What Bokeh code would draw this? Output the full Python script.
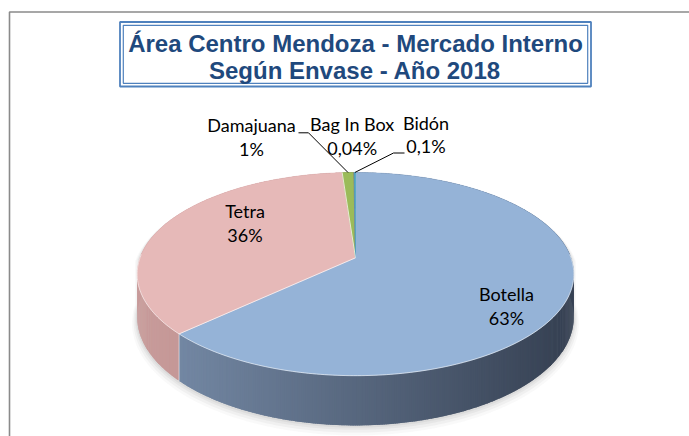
import numpy as np
from bokeh.plotting import figure
from bokeh.models import Range1d
from bokeh.embed import file_html
from bokeh.resources import INLINE
from bokeh.core.properties import value

# ---------------- data ----------------
categories = ["Botella", "Tetra", "Damajuana", "Bag In Box", "Bidón"]
shares = [63.0, 35.86, 1.0, 0.04, 0.1]
pct_labels = ["63%", "36%", "1%", "0,04%", "0,1%"]
title_lines = ["Área Centro Mendoza - Mercado Interno", "Según Envase - Año 2018"]

# ---------------- style / layout ----------------
top_colors = ["#95B3D7", "#E6B9B8", "#9BBB59", "#8064A2", "#4BACC6"]
side_light = [(121, 142, 171), (200, 155, 154), (125, 151, 72), (100, 78, 128), (60, 137, 158)]
side_dark = [(55, 66, 84), (160, 118, 117), (78, 95, 44), (62, 48, 80), (37, 86, 99)]

W, H = 689, 436
OFF = 0
CX, CY = 355.0, 257.3     # pie centre (screen)
R, RY = 215.5, 99.0       # horizontal / vertical radius
K = 0.16                  # perspective strength
DEPTH = 41.8              # pie thickness

TITLE_SHIFT = 7.5         # empirical baseline correction
LABEL_SHIFT = 7.0

# label anchors (centre x, first baseline y)
label_pos = [(506, 300.7), (244.5, 217.7), (251, 131.7), (351.7, 130.7), (425.5, 129.3)]
LINE_GAP = 23.6
leader_anchor = {2: [(298, 132.3), (308, 132.3)], 4: [(404, 152.5), (393, 152.5)]}


def proj(theta_deg, r, h):
    t = np.radians(theta_deg)
    u = r * np.sin(t)
    v = r * np.cos(t)
    s = 1.0 / (1.0 + K * v)
    return CX + R * u * s, CY + (-RY * v + DEPTH * h) * s


def hexc(c):
    return "#%02x%02x%02x" % tuple(int(round(x)) for x in c)


p = figure(width=W, height=H, x_range=Range1d(OFF, OFF + W), y_range=Range1d(OFF + H, OFF),
           output_backend="svg", toolbar_location=None,
           x_axis_location=None, y_axis_location=None, min_border=0)
p.grid.visible = False
p.outline_line_color = None
p.background_fill_color = "white"
p.border_fill_color = "white"

# chart-area frame
p.line(x=[9, 9, OFF + W], y=[OFF + H, 11.5, 11.5], line_color="#8a8a8a", line_width=1.6)

# title box (double border)
p.quad(left=[119.5], right=[590.5], top=[21.5], bottom=[86], fill_color=None,
       line_color="#4F81BD", line_width=1.8)
p.quad(left=[122.8], right=[587.2], top=[24.8], bottom=[82.8], fill_color=None,
       line_color="#4F81BD", line_width=1.2)
p.text(x=[355], y=[50 - TITLE_SHIFT], text=[title_lines[0]], text_font=value("Liberation Sans"),
       text_font_style="bold", text_font_size="24px", text_color="#1F497D",
       text_align="center", text_baseline="alphabetic")
p.text(x=[354.5], y=[77.3 - TITLE_SHIFT], text=[title_lines[1]], text_font=value("Liberation Sans"),
       text_font_style="bold", text_font_size="24px", text_color="#1F497D",
       text_align="center", text_baseline="alphabetic")

# angles
total = float(sum(shares))
bounds = np.concatenate([[0.0], np.cumsum(shares) / total * 360.0])

# shadow (silhouette)
back = np.linspace(270, 450, 181)
front = np.linspace(90, 270, 181)
sx_t, sy_t = proj(back, 1.0, 0.0)
sx_b, sy_b = proj(front, 1.0, 1.0)
sil_x = np.concatenate([sx_t, sx_b])
sil_y = np.concatenate([sy_t, sy_b])
for grow, dy, a in [(5, 4, 0.05), (3.5, 3, 0.07), (2, 2, 0.09), (1, 1, 0.1)]:
    gx = CX + (sil_x - CX) * (1 + grow / R)
    gy = CY + (sil_y - CY) * (1 + grow / 140.0) + dy
    p.patch(gx, gy, fill_color="#808080", fill_alpha=a, line_color=None)

# walls (painter's order back -> front), strips overlap slightly to avoid seams
strips = []
STEP = 0.5
for i in range(len(shares)):
    a0, a1 = bounds[i], bounds[i + 1]
    n = max(1, int(np.ceil((a1 - a0) / STEP)))
    edges = np.linspace(a0, a1, n + 1)
    for j in range(n):
        t0, t1 = edges[j], edges[j + 1]
        t1e = min(t1 + 0.4, a1) if j < n - 1 else t1
        x0, y0 = proj(t0, 1.0, 0.0)
        x1, y1 = proj(t1e, 1.0, 0.0)
        x2, y2 = proj(t1e, 1.0, 1.0)
        x3, y3 = proj(t0, 1.0, 1.0)
        xm = 0.5 * (x0 + x1)
        tt = min(max((xm - 140.0) / (560.0 - 140.0), 0.0), 1.0)
        col = hexc([side_light[i][k] + (side_dark[i][k] - side_light[i][k]) * tt for k in range(3)])
        vm = np.cos(np.radians(0.5 * (t0 + t1)))
        strips.append((vm, [x0, x1, x2, x3], [y0, y1, y2, y3], col))
strips.sort(key=lambda s: -s[0])
p.patches(xs=[s[1] for s in strips], ys=[s[2] for s in strips],
          fill_color=[s[3] for s in strips], line_color=None)

# seam on wall between Botella and Tetra
sxa, sya = proj(np.array([bounds[1], bounds[1]]), 1.0, np.array([0.0, 1.0]))
p.line(sxa, sya, line_color="white", line_alpha=0.55, line_width=1)

# top surfaces
for i in range(len(shares)):
    a0, a1 = bounds[i], bounds[i + 1]
    th = np.linspace(a0, a1, max(2, int(np.ceil((a1 - a0) / 0.5)) + 1))
    rx, ry = proj(th, 1.0, 0.0)
    xs = np.concatenate([[CX], rx])
    ys = np.concatenate([[CY], ry])
    p.patch(xs, ys, fill_color=top_colors[i], line_color=top_colors[i], line_width=0.5)

# slice separators on top
for b in bounds[1:3]:
    bx, by = proj(np.array([0.0, b]), np.array([0.0, 1.0]), 0.0)
    p.line(bx, by, line_color="white", line_alpha=0.7, line_width=1)

# front rim highlight
fr = np.linspace(88, 272, 200)
fx, fy = proj(fr, 1.0, 0.0)
p.line(fx, fy, line_color="white", line_alpha=0.55, line_width=1)

# labels
for i, cat in enumerate(categories):
    lx, ly = label_pos[i]
    p.text(x=[lx], y=[ly - LABEL_SHIFT], text=[cat], text_font=value("Lato"), text_font_size="18px",
           text_color="#000000", text_align="center", text_baseline="alphabetic")
    p.text(x=[lx], y=[ly + LINE_GAP - LABEL_SHIFT], text=[pct_labels[i]], text_font=value("Lato"),
           text_font_size="18px", text_color="#000000", text_align="center",
           text_baseline="alphabetic")

# leader lines
for i, pts in leader_anchor.items():
    mid = 0.5 * (bounds[i] + bounds[i + 1])
    ex, ey = proj(mid, 1.0, 0.0)
    p.line(x=[pts[0][0], pts[1][0], ex], y=[pts[0][1], pts[1][1], ey],
           line_color="#000000", line_width=1)

open("out.html", "w").write(file_html(p, INLINE))
